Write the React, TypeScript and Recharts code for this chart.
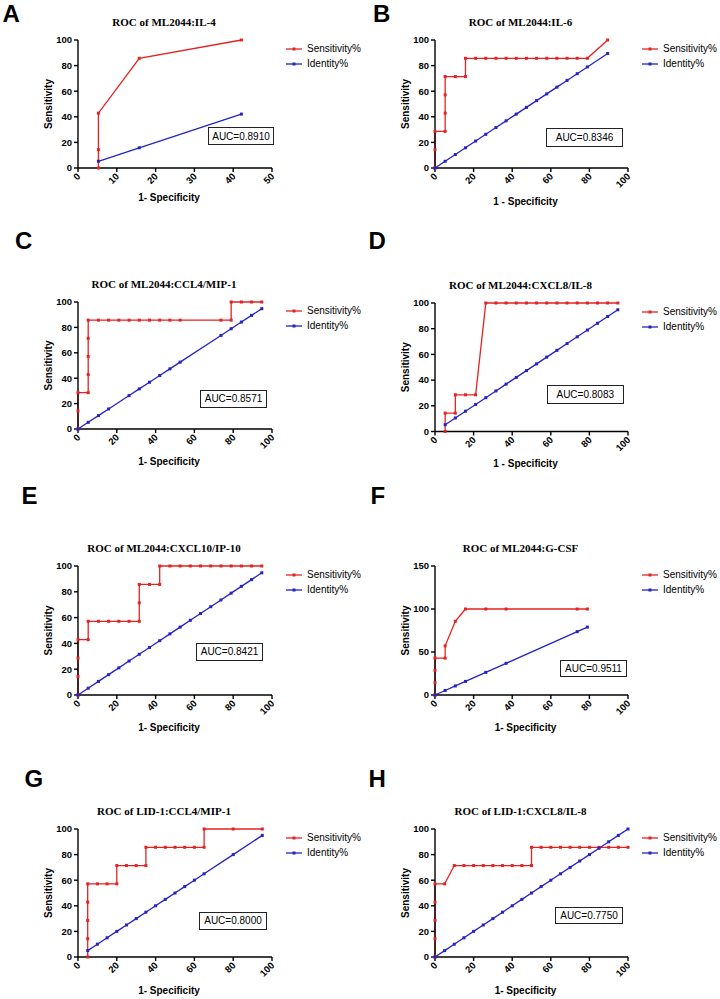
import React from 'react';
import { LineChart, Line, XAxis, YAxis, Legend } from 'recharts';

// ---------- DATA ----------
// Panel A: ML2044:IL-4
const aSensX = [5.26, 5.26, 5.26, 15.79, 42.11];
const aSensY = [0, 14.29, 42.86, 85.71, 100];
const aIdentity = [5.26, 15.79, 42.11];

// Panel B: ML2044:IL-6
const bSensX = [0, 0, 0, 5.26, 5.26, 5.26, 5.26, 10.53, 15.79, 15.79, 21.05, 26.32, 31.58, 36.84, 42.11, 47.37, 52.63, 57.89, 63.16, 68.42, 73.68, 78.95, 89.47];
const bSensY = [0, 14.29, 28.57, 28.57, 42.86, 57.14, 71.43, 71.43, 71.43, 85.71, 85.71, 85.71, 85.71, 85.71, 85.71, 85.71, 85.71, 85.71, 85.71, 85.71, 85.71, 85.71, 100];
const bIdentity = [0, 5.26, 10.53, 15.79, 21.05, 26.32, 31.58, 36.84, 42.11, 47.37, 52.63, 57.89, 63.16, 68.42, 73.68, 78.95, 89.47];

// Panel C: ML2044:CCL4/MIP-1
const cSensX = [0, 0, 0, 5.26, 5.26, 5.26, 5.26, 5.26, 10.53, 15.79, 21.05, 26.32, 31.58, 36.84, 42.11, 47.37, 52.63, 73.68, 78.95, 78.95, 84.21, 89.47, 94.74];
const cSensY = [0, 14.29, 28.57, 28.57, 42.86, 57.14, 71.43, 85.71, 85.71, 85.71, 85.71, 85.71, 85.71, 85.71, 85.71, 85.71, 85.71, 85.71, 85.71, 100, 100, 100, 100];
const cIdentity = [0, 5.26, 10.53, 15.79, 26.32, 31.58, 36.84, 42.11, 47.37, 52.63, 73.68, 78.95, 84.21, 89.47, 94.74];

// Panel D: ML2044:CXCL8/IL-8
const dSensX = [5.26, 5.26, 10.53, 10.53, 15.79, 21.05, 26.32, 31.58, 36.84, 42.11, 47.37, 52.63, 57.89, 63.16, 68.42, 73.68, 78.95, 84.21, 89.47, 94.74];
const dSensY = [0, 14.29, 14.29, 28.57, 28.57, 28.57, 100, 100, 100, 100, 100, 100, 100, 100, 100, 100, 100, 100, 100, 100];
const dIdentity = [5.26, 10.53, 15.79, 21.05, 26.32, 31.58, 36.84, 42.11, 47.37, 52.63, 57.89, 63.16, 68.42, 73.68, 78.95, 84.21, 89.47, 94.74];

// Panel E: ML2044:CXCL10/IP-10
const eSensX = [0, 0, 0, 0, 5.26, 5.26, 10.53, 15.79, 21.05, 26.32, 31.58, 31.58, 31.58, 36.84, 42.11, 42.11, 47.37, 52.63, 57.89, 63.16, 68.42, 73.68, 78.95, 84.21, 89.47, 94.74];
const eSensY = [0, 14.29, 28.57, 42.86, 42.86, 57.14, 57.14, 57.14, 57.14, 57.14, 57.14, 71.43, 85.71, 85.71, 85.71, 100, 100, 100, 100, 100, 100, 100, 100, 100, 100, 100];
const eIdentity = [0, 5.26, 10.53, 15.79, 21.05, 26.32, 31.58, 36.84, 42.11, 47.37, 52.63, 57.89, 63.16, 68.42, 73.68, 78.95, 84.21, 89.47, 94.74];

// Panel F: ML2044:G-CSF
const fSensX = [0, 0, 0, 0, 5.26, 5.26, 10.53, 15.79, 26.32, 36.84, 73.68, 78.95];
const fSensY = [0, 14.29, 28.57, 42.86, 42.86, 57.14, 85.71, 100, 100, 100, 100, 100];
const fIdentity = [0, 5.26, 10.53, 15.79, 26.32, 36.84, 73.68, 78.95];

// Panel G: LID-1:CCL4/MIP-1
const gSensX = [5, 5, 5, 5, 5, 10, 15, 20, 20, 25, 30, 35, 35, 40, 45, 50, 55, 60, 65, 65, 80, 95];
const gSensY = [0, 14.29, 28.57, 42.86, 57.14, 57.14, 57.14, 57.14, 71.43, 71.43, 71.43, 71.43, 85.71, 85.71, 85.71, 85.71, 85.71, 85.71, 85.71, 100, 100, 100];
const gIdentity = [5, 10, 15, 20, 25, 30, 35, 40, 45, 50, 55, 60, 65, 80, 95];

// Panel H: LID-1:CXCL8/IL-8
const hSensX = [0, 0, 0, 0, 0, 5, 10, 15, 20, 25, 30, 35, 40, 45, 50, 50, 55, 60, 65, 70, 75, 80, 85, 90, 95, 100];
const hSensY = [0, 14.29, 28.57, 42.86, 57.14, 57.14, 71.43, 71.43, 71.43, 71.43, 71.43, 71.43, 71.43, 71.43, 71.43, 85.71, 85.71, 85.71, 85.71, 85.71, 85.71, 85.71, 85.71, 85.71, 85.71, 85.71];
const hIdentity = [0, 5, 10, 15, 20, 25, 30, 35, 40, 45, 50, 55, 60, 65, 70, 75, 80, 85, 90, 95, 100];

const panelLetters = ['A', 'B', 'C', 'D', 'E', 'F', 'G', 'H'];
const panelTitles = [
  'ROC of ML2044:IL-4',
  'ROC of ML2044:IL-6',
  'ROC of ML2044:CCL4/MIP-1',
  'ROC of ML2044:CXCL8/IL-8',
  'ROC of ML2044:CXCL10/IP-10',
  'ROC of ML2044:G-CSF',
  'ROC of LID-1:CCL4/MIP-1',
  'ROC of LID-1:CXCL8/IL-8',
];
const aucLabels = ['AUC=0.8910', 'AUC=0.8346', 'AUC=0.8571', 'AUC=0.8083', 'AUC=0.8421', 'AUC=0.9511', 'AUC=0.8000', 'AUC=0.7750'];
const xTitles = ['1- Specificity', '1 - Specificity', '1- Specificity', '1 - Specificity', '1- Specificity', '1- Specificity', '1- Specificity', '1- Specificity'];
const xTicks50 = [0, 10, 20, 30, 40, 50];
const xTicks100 = [0, 20, 40, 60, 80, 100];
const yTicks100 = [0, 20, 40, 60, 80, 100];
const yTicks150 = [0, 50, 100, 150];
const sensName = 'Sensitivity%';
const identName = 'Identity%';
const legendOrder = [sensName, identName];

const sensSeries = [
  [aSensX, aSensY], [bSensX, bSensY], [cSensX, cSensY], [dSensX, dSensY],
  [eSensX, eSensY], [fSensX, fSensY], [gSensX, gSensY], [hSensX, hSensY],
];
const identSeries = [aIdentity, bIdentity, cIdentity, dIdentity, eIdentity, fIdentity, gIdentity, hIdentity];

// ---------- LAYOUT ----------
type Cfg = {
  col: number; L: number; T: number; W: number; H: number;
  xMax: number; xTicks: number[]; yMax: number; yTicks: number[];
  gap: number; letter: [number, number]; auc: [number, number, number, number];
};
const layouts: Cfg[] = [
  { col: 0, L: 78, T: 40, W: 194, H: 128, xMax: 50, xTicks: xTicks50, yMax: 100, yTicks: yTicks100, gap: 29, letter: [2.5, 2], auc: [208, 127, 66, 18] },
  { col: 1, L: 435, T: 40, W: 193, H: 128, xMax: 100, xTicks: xTicks100, yMax: 100, yTicks: yTicks100, gap: 33.5, letter: [373, 2], auc: [546, 128, 77, 18.5] },
  { col: 0, L: 78, T: 302, W: 194, H: 127, xMax: 100, xTicks: xTicks100, yMax: 100, yTicks: yTicks100, gap: 32.5, letter: [15, 229], auc: [200, 390, 67, 17.5] },
  { col: 1, L: 435, T: 303, W: 193, H: 128.5, xMax: 100, xTicks: xTicks100, yMax: 100, yTicks: yTicks100, gap: 32, letter: [368.5, 229], auc: [546.5, 385, 77.5, 19] },
  { col: 0, L: 78, T: 566, W: 194, H: 129, xMax: 100, xTicks: xTicks100, yMax: 100, yTicks: yTicks100, gap: 32.7, letter: [21.5, 484], auc: [196, 643, 67, 17.5] },
  { col: 1, L: 435, T: 566, W: 193, H: 129, xMax: 100, xTicks: xTicks100, yMax: 150, yTicks: yTicks150, gap: 32.7, letter: [370.5, 484], auc: [560, 660, 67, 17] },
  { col: 0, L: 78, T: 829, W: 194, H: 128, xMax: 100, xTicks: xTicks100, yMax: 100, yTicks: yTicks100, gap: 33, letter: [24.5, 767], auc: [199, 911.5, 68, 18.5] },
  { col: 1, L: 435, T: 829, W: 193, H: 128, xMax: 100, xTicks: xTicks100, yMax: 100, yTicks: yTicks100, gap: 33, letter: [368.5, 767], auc: [555, 906.5, 68, 17.5] },
];

const RED = '#e52222';
const BLUE = '#2323c8';
const SANS = '"Liberation Sans", Arial, sans-serif';
const SERIF = '"Liberation Serif", "Times New Roman", serif';
const TOP = 40;
const XAXIS_H = 60;

const SquareDot = (props: any) => {
  const { cx, cy, stroke, index } = props;
  if (cx == null || cy == null) return <g key={`n-${index}`} />;
  return <rect key={`d-${index}`} x={cx - 1.5} y={cy - 1.5} width={3} height={3} fill={stroke} stroke="none" />;
};

const XTick = (props: any) => {
  const { x, y, payload } = props;
  return (
    <g transform={`translate(${x + 3},${y + 3})`}>
      <text textAnchor="end" transform="rotate(-45)" fontSize={9.5} fontWeight="bold" fill="#000" fontFamily={SANS}>
        {payload.value}
      </text>
    </g>
  );
};

const renderLegend = (props: any) => {
  const items = [...(props.payload || [])].sort(
    (a: any, b: any) => legendOrder.indexOf(a.value) - legendOrder.indexOf(b.value)
  );
  return (
    <div style={{ fontFamily: SANS, fontSize: 10, color: '#000', whiteSpace: 'nowrap' }}>
      {items.map((e: any, i: number) => (
        <div key={i} style={{ display: 'flex', alignItems: 'center', height: 15 }}>
          <svg width={16} height={6} style={{ display: 'block' }}>
            <line x1={0} y1={3} x2={16} y2={3} stroke={e.color} strokeWidth={1.3} />
            <rect x={6.5} y={1.5} width={3} height={3} fill={e.color} />
          </svg>
          <span style={{ marginLeft: 5, lineHeight: '15px' }}>{e.value}</span>
        </div>
      ))}
    </div>
  );
};

const Panel = ({ idx }: { idx: number }) => {
  const cfg = layouts[idx];
  const colX = cfg.col === 0 ? 0 : 360;
  const yW = cfg.L - colX;
  const chartH = TOP + cfg.H + XAXIS_H;
  const [sx, sy] = sensSeries[idx];
  const sens = sx.map((x, i) => ({ x, y: sy[i] }));
  const ident = identSeries[idx].map((v) => ({ x: v, y: v }));
  const axisStyle = { stroke: '#000', strokeWidth: 1.4 };
  const xTitleX = yW + cfg.W / 2 - 6;
  const xTitleY = TOP + cfg.H + cfg.gap;
  const yTitleX = yW - 29.5;
  const yTitleY = TOP + cfg.H / 2;
  return (
    <div style={{ position: 'absolute', left: colX, top: cfg.T - TOP }}>
      <LineChart width={360} height={chartH} margin={{ top: TOP, left: 0, right: 360 - yW - cfg.W, bottom: 0 }}>
        <XAxis
          type="number"
          dataKey="x"
          domain={[0, cfg.xMax]}
          ticks={cfg.xTicks}
          interval={0}
          height={XAXIS_H}
          tickSize={4}
          tickMargin={2}
          axisLine={axisStyle}
          tickLine={axisStyle}
          tick={<XTick />}
          label={{
            value: xTitles[idx],
            content: () => (
              <text x={xTitleX} y={xTitleY} textAnchor="middle" dominantBaseline="central" fontSize={10} fontWeight="bold" fill="#000" fontFamily={SANS}>
                {xTitles[idx]}
              </text>
            ),
          }}
        />
        <YAxis
          type="number"
          domain={[0, cfg.yMax]}
          ticks={cfg.yTicks}
          interval={0}
          width={yW}
          tickSize={4}
          tickMargin={2}
          axisLine={axisStyle}
          tickLine={axisStyle}
          tick={{ fontSize: 9.5, fontWeight: 'bold', fill: '#000', fontFamily: SANS }}
          label={{
            value: 'Sensitivity',
            content: () => (
              <text x={yTitleX} y={yTitleY} transform={`rotate(-90, ${yTitleX}, ${yTitleY})`} textAnchor="middle" dominantBaseline="central" fontSize={10} fontWeight="bold" fill="#000" fontFamily={SANS}>
                Sensitivity
              </text>
            ),
          }}
        />
        <Legend
          layout="vertical"
          align="center"
          verticalAlign="middle"
          content={renderLegend}
          wrapperStyle={{ left: cfg.col === 0 ? 286 : 282, top: TOP + 1.2, width: 'auto', right: 'auto', bottom: 'auto' }}
        />
        <Line data={sens} dataKey="y" name={sensName} stroke={RED} strokeWidth={1.3} dot={<SquareDot />} activeDot={false} isAnimationActive={false} />
        <Line data={ident} dataKey="y" name={identName} stroke={BLUE} strokeWidth={1.3} dot={<SquareDot />} activeDot={false} isAnimationActive={false} />
      </LineChart>
    </div>
  );
};

export default function App() {
  return (
    <div style={{ position: 'absolute', left: 0, top: 0, width: 720, height: 999, background: '#fff', overflow: 'hidden' }}>
      {layouts.map((cfg, i) => (
        <Panel key={`p-${i}`} idx={i} />
      ))}
      {layouts.map((cfg, i) => (
        <div
          key={`l-${i}`}
          style={{ position: 'absolute', left: cfg.letter[0], top: cfg.letter[1], fontFamily: SANS, fontWeight: 'bold', fontSize: 24, lineHeight: '24px', color: '#000' }}
        >
          {panelLetters[i]}
        </div>
      ))}
      {layouts.map((cfg, i) => (
        <div
          key={`t-${i}`}
          style={{ position: 'absolute', left: cfg.L + cfg.W / 2 - 11 - 150, top: cfg.T - 18 - 7, width: 300, textAlign: 'center', fontFamily: SERIF, fontWeight: 'bold', fontSize: 11, lineHeight: '14px', color: '#000', whiteSpace: 'nowrap' }}
        >
          {panelTitles[i]}
        </div>
      ))}
      {layouts.map((cfg, i) => (
        <div
          key={`a-${i}`}
          style={{ position: 'absolute', left: cfg.auc[0], top: cfg.auc[1], width: cfg.auc[2], height: cfg.auc[3], boxSizing: 'border-box', border: '1.3px solid #222', display: 'flex', alignItems: 'center', justifyContent: 'center', fontFamily: SANS, fontSize: 10, color: '#000', background: '#fff' }}
        >
          {aucLabels[i]}
        </div>
      ))}
    </div>
  );
}
